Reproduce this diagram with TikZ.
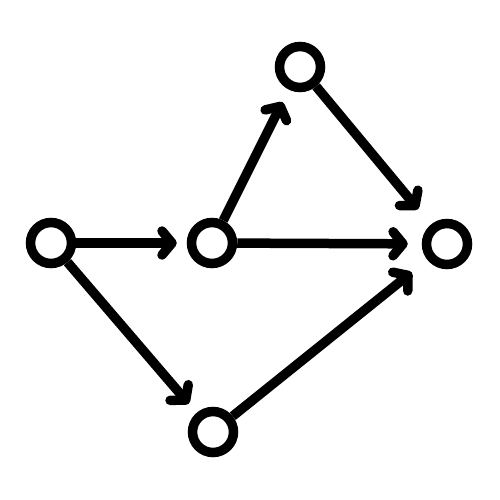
\documentclass[tikz,border=0pt]{standalone}
\usetikzlibrary{arrows.meta}
\begin{document}
\begin{tikzpicture}[x=1pt,y=-1pt,
  dot/.style={circle,draw=black,line width=9.5pt,minimum size=41pt,inner sep=0pt,fill=white},
  conn/.style={line width=9.5pt,-{Straight Barb[length=10pt,width=24pt,round]}}]
\useasboundingbox (0,0) rectangle (500,500);
\node[dot] (A) at (51,243) {};
\node[dot] (B) at (212,243) {};
\node[dot] (C) at (300,67) {};
\node[dot] (D) at (447,244) {};
\node[dot] (E) at (213,432) {};
\draw[conn,shorten >=10pt] (A) -- (B);
\draw[conn,shorten >=14pt] (B) -- (D);
\draw[conn,shorten >=14pt] (B) -- (C);
\draw[conn,shorten >=20pt] (C) -- (D);
\draw[conn,shorten >=12pt] (A) -- (E);
\draw[conn,shorten >=20pt] (E) -- (D);
\end{tikzpicture}
\end{document}
